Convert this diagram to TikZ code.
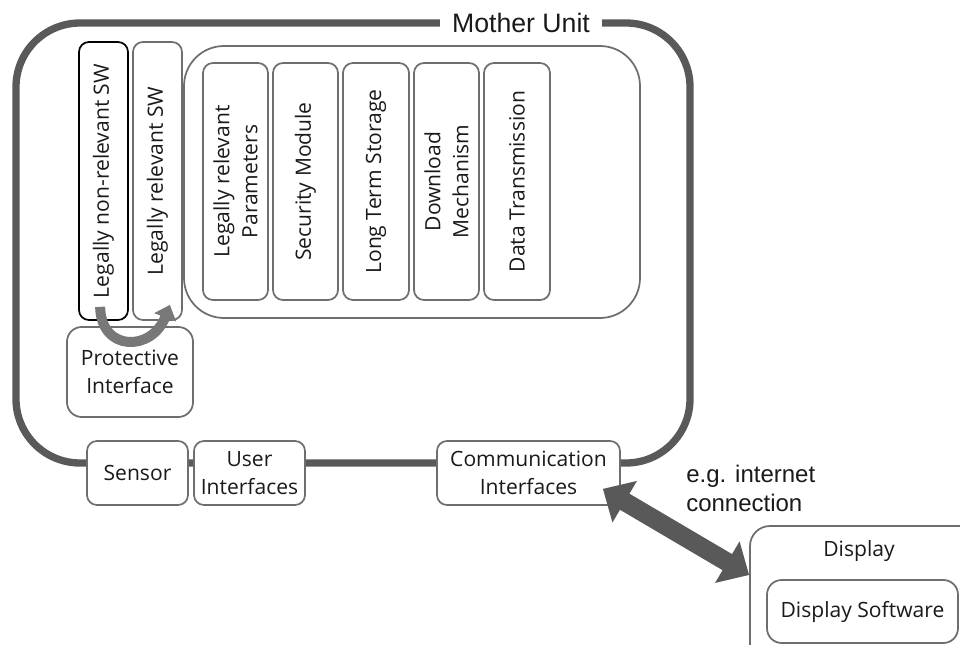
\documentclass[tikz,border=0pt]{standalone}
\usepackage{fontspec}
\setmainfont{Open Sans}
\newfontfamily\arialfont{Liberation Sans}
\usetikzlibrary{arrows.meta,fit}
\definecolor{framegray}{HTML}{595959}
\definecolor{boxgray}{HTML}{6E6E6E}
\definecolor{arcgray}{HTML}{787878}
\definecolor{inkblack}{HTML}{1A1A1A}

\begin{document}
\begin{tikzpicture}[x=0.75pt,y=-0.75pt,
  box/.style={draw=boxgray, line width=1.3pt, rounded corners=7.5pt, fill=white, inner sep=0pt},
  darkbox/.style={box, draw=black},
  bigbox/.style={box, rounded corners=30pt},
  txt/.style={font=\fontsize{15.8}{21}\selectfont, text=inkblack, align=center, inner sep=0pt},
  vtxt/.style={txt, rotate=90},
  frame/.style={draw=framegray, line width=5.5pt},
  title/.style={fill=white, text=inkblack, inner xsep=9pt, inner ysep=3pt,
                font=\arialfont\fontsize{20}{24}\selectfont},
  note/.style={text=inkblack, align=left, inner sep=0pt,
               font=\arialfont\fontsize{18}{21.5}\selectfont},
  swaparrow/.style={draw=arcgray, line width=7.5pt,
                    -{Triangle[length=10pt,width=17pt]}},
  linkarrow/.style={draw=framegray, line width=14pt,
                    {Triangle[length=19pt,width=35pt]}-{Triangle[length=19pt,width=35pt]}}
]
\useasboundingbox (0,0) rectangle (960,645);
\clip (0,0) rectangle (960,645);

% outer frame of the mother unit
\draw[frame, rounded corners=48pt] (16,23) rectangle (690,463);
\node[title] (mother) at (521,23) {Mother Unit};

% software partitions
\node[darkbox, fit={(79,42) (128,320)}] (nonrel) {};
\node[vtxt] at (nonrel.center) {Legally non-relevant SW};
\node[box, fit={(133,42) (182,320)}] (rel) {};
\node[vtxt] at (rel.center) {Legally relevant SW};

% container of the legally relevant modules
\node[bigbox, fit={(184,46) (640,318)}] (modules) {};

\node[box, fit={(203,63) (268,300)}] (params) {};
\node[vtxt] at (params.center) {Legally relevant\\Parameters};
\node[box, fit={(273,63) (338,300)}] (secmod) {};
\node[vtxt] at (secmod.center) {Security Module};
\node[box, fit={(343,63) (409,300)}] (storage) {};
\node[vtxt] at (storage.center) {Long Term Storage};
\node[box, fit={(414,63) (479,300)}] (download) {};
\node[vtxt] at (download.center) {Download\\Mechanism};
\node[box, fit={(484,63) (550,300)}] (datatx) {};
\node[vtxt] at (datatx.center) {Data Transmission};

% protective interface with the swap arrow
\node[box, rounded corners=11pt, fit={(67,327) (193,417)}] (protect) {};
\node[txt] at (protect.center) {Protective\\Interface};
\draw[swaparrow] ([shift={(22,-14)}]nonrel.south west)
  .. controls (101,352) and (152,352) .. ([shift={(-13,-16)}]rel.south east);

% interfaces sitting on the frame
\node[box, fit={(87,441) (188,505)}] (sensor) {};
\node[txt] at (sensor.center) {Sensor};
\node[box, fit={(194,441) (305,505)}] (userif) {};
\node[txt] at (userif.center) {User\\Interfaces};
\node[box, fit={(437,441) (620,505)}] (commif) {};
\node[txt] at (commif.center) {Communication\\Interfaces};

% external display
\node[box, rounded corners=15pt, fit={(750,526) (990,680)}] (display) {};
\node[txt] (displabel) at (859,551) {Display};
\node[box, rounded corners=11pt, fit={(767,580) (958,643)}] (dispsw) {};
\node[txt] at (dispsw.center) {Display Software};

% link between communication interfaces and display
\coordinate (linkA) at ([shift={(-18,-17)}]commif.south east);
\coordinate (linkB) at (display.west |- 0,575);
\draw[linkarrow] (linkA) -- (linkB);
\node[note, anchor=north west] (linknote) at (686,465) {e.g. internet\\connection};
\end{tikzpicture}
\end{document}
